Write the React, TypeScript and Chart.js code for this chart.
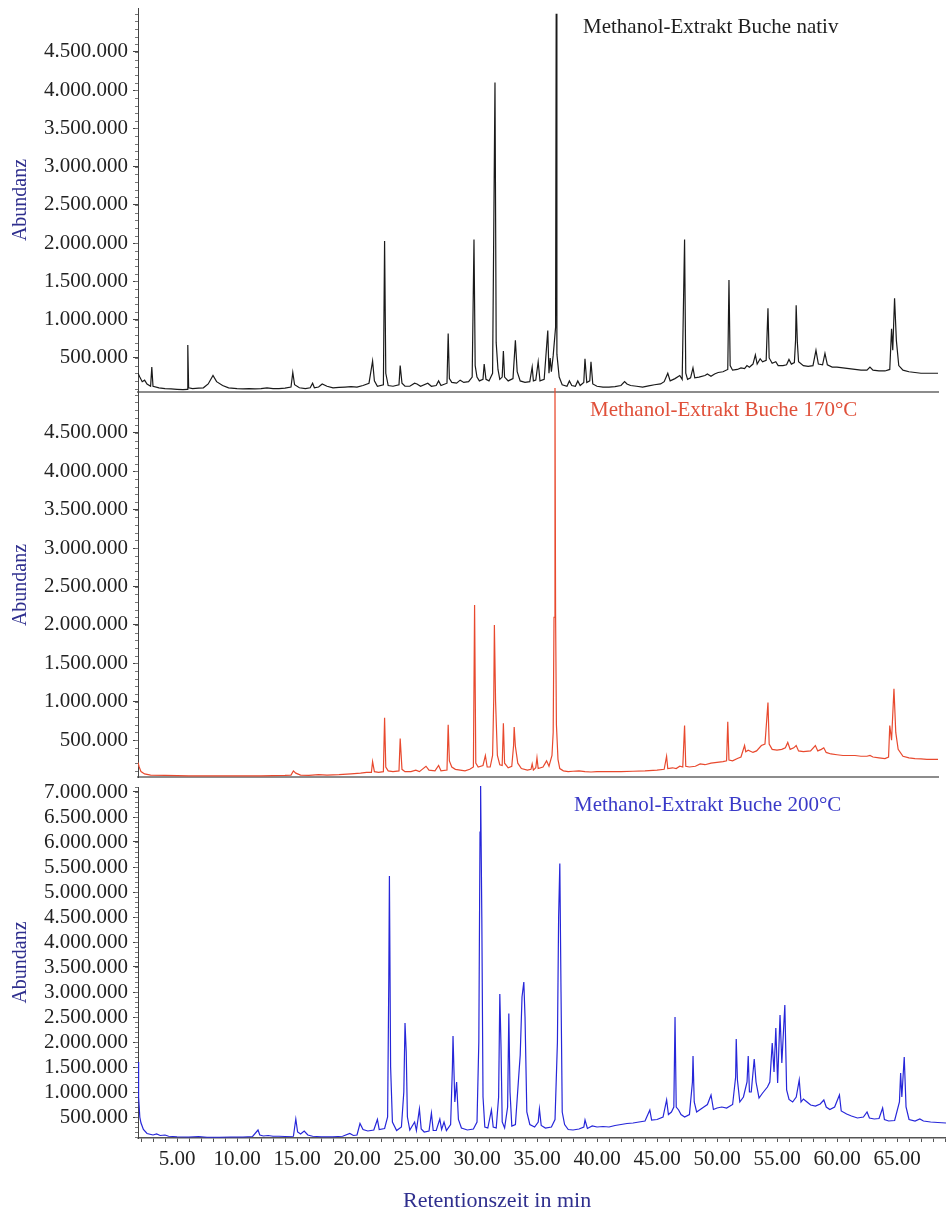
import React, { useEffect, useRef } from 'react';
import { Chart, registerables } from 'chart.js';

Chart.register(...registerables);

// ---------- data (retention time in min, abundance) ----------
const nativPoints: [number, number][] = [
  [1.75, 300000], [1.9, 250000], [2.1, 190000], [2.3, 210000], [2.5, 160000], [2.8, 130000], [2.9, 380000], [3.0, 130000],
  [3.5, 110000], [4.0, 100000], [4.5, 95000], [5.0, 90000], [5.5, 85000], [5.85, 90000], [5.9, 670000], [5.97, 110000],
  [6.3, 100000], [6.8, 105000], [7.2, 110000], [7.6, 160000], [8.0, 270000], [8.3, 190000], [8.8, 140000], [9.3, 110000],
  [10.0, 100000], [10.5, 95000], [11.0, 100000], [11.5, 95000], [12.0, 100000], [12.5, 110000], [13.0, 100000], [13.5, 100000],
  [14.0, 105000], [14.5, 120000], [14.65, 310000], [14.8, 150000], [15.2, 110000], [15.7, 100000], [16.1, 110000], [16.3, 170000],
  [16.45, 110000], [16.8, 120000], [17.1, 160000], [17.5, 130000], [18.0, 110000], [18.5, 115000], [19.0, 120000], [19.5, 125000],
  [20.0, 120000], [20.5, 140000], [21.0, 170000], [21.3, 460000], [21.45, 200000], [21.7, 130000], [22.2, 150000], [22.3, 2030000],
  [22.4, 300000], [22.6, 140000], [23.0, 130000], [23.5, 150000], [23.6, 400000], [23.75, 170000], [24.0, 130000], [24.4, 130000],
  [24.8, 170000], [25.0, 160000], [25.3, 130000], [25.9, 170000], [26.2, 130000], [26.6, 140000], [26.8, 200000], [27.0, 140000],
  [27.5, 170000], [27.6, 820000], [27.7, 230000], [27.9, 180000], [28.3, 170000], [28.6, 210000], [28.9, 180000], [29.3, 190000],
  [29.6, 250000], [29.75, 2050000], [29.85, 400000], [30.0, 250000], [30.2, 200000], [30.5, 220000], [30.6, 420000], [30.75, 220000],
  [31.0, 200000], [31.3, 300000], [31.5, 4100000], [31.6, 700000], [31.75, 350000], [31.9, 220000], [32.1, 250000], [32.2, 590000],
  [32.3, 250000], [32.6, 200000], [33.0, 230000], [33.2, 730000], [33.35, 320000], [33.6, 200000], [34.0, 180000], [34.4, 190000],
  [34.6, 380000], [34.7, 200000], [34.9, 210000], [35.1, 450000], [35.25, 200000], [35.6, 220000], [35.9, 860000], [36.0, 300000],
  [36.1, 500000], [36.2, 320000], [36.35, 530000], [36.55, 900000], [36.6, 5000000], [36.66, 550000], [36.85, 250000], [37.1, 150000],
  [37.5, 130000], [37.7, 200000], [37.9, 140000], [38.2, 130000], [38.4, 200000], [38.6, 140000], [38.9, 180000], [39.0, 490000],
  [39.15, 180000], [39.4, 200000], [39.5, 450000], [39.65, 160000], [40.0, 130000], [40.5, 120000], [41.0, 120000], [41.5, 125000],
  [42.0, 140000], [42.3, 190000], [42.5, 160000], [42.8, 140000], [43.3, 130000], [43.8, 120000], [44.3, 135000], [44.8, 150000],
  [45.3, 160000], [45.6, 190000], [45.9, 300000], [46.1, 200000], [46.5, 230000], [46.9, 270000], [47.1, 220000], [47.3, 2050000],
  [47.4, 300000], [47.55, 220000], [47.8, 240000], [48.0, 370000], [48.15, 240000], [48.5, 250000], [49.0, 270000], [49.2, 290000],
  [49.5, 260000], [49.8, 290000], [50.1, 310000], [50.5, 320000], [50.9, 350000], [51.0, 1520000], [51.1, 400000], [51.3, 340000],
  [51.7, 350000], [52.0, 370000], [52.3, 360000], [52.5, 400000], [52.7, 380000], [53.0, 420000], [53.2, 540000], [53.35, 420000],
  [53.6, 490000], [53.8, 450000], [54.1, 470000], [54.25, 1150000], [54.35, 500000], [54.6, 430000], [54.9, 450000], [55.1, 400000],
  [55.5, 400000], [55.8, 410000], [56.0, 480000], [56.2, 420000], [56.45, 440000], [56.55, 730000], [56.6, 1190000], [56.7, 700000],
  [56.8, 450000], [57.2, 400000], [57.6, 390000], [58.0, 400000], [58.25, 600000], [58.45, 420000], [58.8, 410000], [59.0, 560000],
  [59.2, 410000], [59.6, 380000], [60.0, 380000], [60.5, 370000], [61.0, 360000], [61.5, 350000], [62.0, 340000], [62.5, 340000],
  [62.75, 380000], [63.0, 340000], [63.5, 330000], [64.0, 330000], [64.4, 350000], [64.55, 880000], [64.65, 600000], [64.8, 1280000],
  [64.95, 730000], [65.15, 400000], [65.5, 340000], [66.0, 320000], [66.5, 310000], [67.0, 300000], [67.5, 300000], [68.0, 300000],
  [68.42, 300000],
];

const temp170Points: [number, number][] = [
  [1.75, 210000], [1.85, 150000], [2.0, 90000], [2.3, 60000], [2.8, 45000], [4.0, 40000], [6.0, 35000], [8.0, 35000],
  [10.0, 35000], [12.0, 35000], [14.0, 40000], [14.5, 45000], [14.7, 100000], [14.9, 70000], [15.3, 45000], [16.0, 40000],
  [16.8, 50000], [17.5, 45000], [18.5, 50000], [19.5, 60000], [20.3, 70000], [20.8, 80000], [21.2, 80000], [21.3, 220000],
  [21.45, 90000], [21.8, 80000], [22.2, 90000], [22.3, 790000], [22.4, 150000], [22.6, 100000], [23.0, 90000], [23.5, 100000],
  [23.6, 520000], [23.75, 120000], [24.0, 90000], [24.5, 90000], [24.9, 110000], [25.2, 90000], [25.75, 160000], [26.0, 110000],
  [26.5, 100000], [26.8, 170000], [27.0, 100000], [27.5, 110000], [27.6, 700000], [27.7, 230000], [27.9, 150000], [28.2, 120000],
  [28.6, 110000], [29.0, 100000], [29.4, 120000], [29.7, 150000], [29.8, 2260000], [29.9, 200000], [30.1, 150000], [30.5, 170000],
  [30.7, 300000], [30.85, 150000], [31.1, 150000], [31.3, 300000], [31.4, 1060000], [31.45, 2000000], [31.55, 1000000], [31.7, 300000],
  [31.9, 180000], [32.1, 170000], [32.2, 720000], [32.3, 200000], [32.6, 140000], [32.9, 160000], [33.05, 430000], [33.1, 670000],
  [33.2, 420000], [33.4, 200000], [33.7, 130000], [34.2, 110000], [34.5, 120000], [34.6, 190000], [34.7, 110000], [34.9, 140000],
  [35.0, 270000], [35.1, 130000], [35.5, 150000], [35.8, 230000], [36.0, 160000], [36.25, 300000], [36.35, 600000], [36.42, 2100000],
  [36.5, 5150000], [36.55, 2150000], [36.62, 700000], [36.75, 250000], [36.9, 130000], [37.2, 100000], [37.6, 90000], [38.0, 95000],
  [38.5, 100000], [39.0, 90000], [39.5, 85000], [40.0, 90000], [41.0, 90000], [42.0, 90000], [43.0, 95000], [44.0, 100000],
  [45.0, 110000], [45.6, 120000], [45.8, 290000], [45.9, 130000], [46.3, 140000], [46.6, 130000], [46.9, 160000], [47.15, 150000],
  [47.3, 690000], [47.4, 160000], [47.7, 150000], [48.2, 160000], [48.6, 190000], [49.0, 180000], [49.5, 200000], [50.0, 210000],
  [50.5, 220000], [50.8, 230000], [50.9, 740000], [51.0, 240000], [51.3, 230000], [51.7, 260000], [52.0, 280000], [52.3, 430000],
  [52.4, 350000], [52.6, 370000], [53.0, 340000], [53.3, 360000], [53.7, 430000], [54.0, 450000], [54.25, 990000], [54.35, 450000],
  [54.6, 380000], [55.0, 370000], [55.4, 380000], [55.7, 400000], [55.9, 470000], [56.1, 380000], [56.4, 400000], [56.6, 430000],
  [56.8, 360000], [57.2, 350000], [57.8, 360000], [58.2, 430000], [58.4, 360000], [58.7, 380000], [58.9, 400000], [59.1, 340000],
  [59.5, 320000], [60.0, 310000], [60.5, 300000], [61.0, 300000], [61.5, 300000], [62.0, 290000], [62.5, 290000], [62.75, 300000],
  [63.0, 280000], [63.5, 270000], [64.0, 260000], [64.3, 280000], [64.4, 690000], [64.55, 500000], [64.75, 1170000], [64.9, 600000],
  [65.1, 380000], [65.5, 290000], [66.0, 270000], [66.5, 260000], [67.0, 255000], [67.5, 250000], [68.0, 250000], [68.42, 250000],
];

const temp200Points: [number, number][] = [
  [1.75, 1600000], [1.8, 900000], [1.9, 500000], [2.0, 380000], [2.2, 250000], [2.5, 170000], [3.0, 140000], [3.3, 160000],
  [3.6, 130000], [4.0, 140000], [4.3, 115000], [5.0, 105000], [6.0, 100000], [6.8, 110000], [7.5, 95000], [8.5, 95000],
  [9.5, 100000], [10.5, 100000], [11.3, 110000], [11.75, 240000], [11.9, 140000], [12.2, 120000], [12.6, 130000], [13.0, 115000],
  [13.5, 115000], [14.0, 110000], [14.7, 115000], [14.9, 460000], [15.05, 200000], [15.3, 160000], [15.6, 220000], [15.9, 140000],
  [16.3, 115000], [17.0, 105000], [18.0, 105000], [18.8, 115000], [19.4, 170000], [19.7, 130000], [20.0, 140000], [20.25, 370000],
  [20.5, 250000], [20.9, 220000], [21.4, 240000], [21.7, 450000], [21.85, 250000], [22.3, 270000], [22.55, 500000], [22.65, 3300000],
  [22.7, 5320000], [22.8, 1500000], [22.95, 400000], [23.3, 230000], [23.7, 300000], [23.9, 1000000], [24.0, 2380000], [24.1, 1800000],
  [24.2, 500000], [24.4, 240000], [24.8, 400000], [24.95, 230000], [25.2, 660000], [25.35, 260000], [25.6, 200000], [26.0, 220000],
  [26.2, 580000], [26.35, 230000], [26.6, 230000], [26.9, 460000], [27.05, 250000], [27.25, 400000], [27.45, 230000], [27.8, 350000],
  [27.95, 1500000], [28.0, 2120000], [28.15, 800000], [28.3, 1200000], [28.45, 450000], [28.7, 280000], [29.2, 240000], [29.7, 260000],
  [30.0, 400000], [30.15, 2000000], [30.25, 6200000], [30.3, 7120000], [30.4, 4500000], [30.5, 900000], [30.65, 300000], [30.9, 280000],
  [31.2, 640000], [31.35, 300000], [31.6, 280000], [31.8, 900000], [31.9, 2960000], [32.0, 1900000], [32.1, 400000], [32.3, 280000],
  [32.55, 700000], [32.65, 2570000], [32.75, 1000000], [32.9, 320000], [33.2, 350000], [33.5, 1400000], [33.6, 1740000], [33.75, 2900000],
  [33.9, 3200000], [34.0, 2500000], [34.15, 600000], [34.4, 350000], [34.8, 300000], [35.1, 400000], [35.2, 660000], [35.35, 330000],
  [35.7, 280000], [36.2, 300000], [36.5, 450000], [36.7, 2000000], [36.8, 4500000], [36.9, 5570000], [37.0, 3000000], [37.1, 600000],
  [37.3, 350000], [37.6, 250000], [38.0, 240000], [38.5, 260000], [38.9, 300000], [39.0, 440000], [39.2, 270000], [39.6, 320000],
  [40.0, 300000], [40.5, 310000], [41.0, 300000], [41.5, 330000], [42.0, 350000], [42.5, 370000], [43.0, 380000], [43.5, 400000],
  [44.0, 420000], [44.4, 640000], [44.55, 440000], [45.0, 450000], [45.5, 500000], [45.8, 840000], [45.95, 550000], [46.2, 600000],
  [46.4, 700000], [46.5, 2500000], [46.6, 700000], [46.8, 640000], [47.0, 550000], [47.3, 500000], [47.7, 550000], [47.95, 1200000],
  [48.0, 1720000], [48.1, 800000], [48.3, 600000], [48.6, 650000], [48.9, 700000], [49.2, 750000], [49.5, 940000], [49.7, 650000],
  [50.0, 680000], [50.4, 700000], [50.8, 680000], [51.3, 750000], [51.55, 1300000], [51.6, 2060000], [51.7, 1240000], [51.9, 800000],
  [52.2, 900000], [52.5, 1200000], [52.6, 1720000], [52.7, 1000000], [52.85, 1000000], [53.1, 1660000], [53.25, 1200000], [53.5, 880000],
  [53.8, 980000], [54.2, 1100000], [54.4, 1200000], [54.6, 1980000], [54.75, 1400000], [54.9, 2280000], [55.05, 1180000], [55.25, 2540000],
  [55.4, 1580000], [55.65, 2740000], [55.8, 1040000], [56.0, 850000], [56.3, 800000], [56.6, 900000], [56.85, 1240000], [57.0, 800000],
  [57.2, 860000], [57.5, 800000], [57.8, 740000], [58.2, 720000], [58.6, 760000], [58.9, 840000], [59.1, 700000], [59.4, 650000],
  [59.8, 700000], [60.2, 940000], [60.35, 620000], [60.8, 560000], [61.2, 520000], [61.7, 480000], [62.2, 500000], [62.5, 600000],
  [62.7, 480000], [63.1, 460000], [63.5, 470000], [63.8, 680000], [63.95, 450000], [64.3, 420000], [64.8, 430000], [65.2, 800000],
  [65.3, 1380000], [65.4, 900000], [65.6, 1700000], [65.75, 700000], [66.0, 450000], [66.5, 420000], [66.9, 460000], [67.2, 420000],
  [67.8, 400000], [68.4, 390000], [69.08, 380000],
];

const yTicksUpper = [500000, 1000000, 1500000, 2000000, 2500000, 3000000, 3500000, 4000000, 4500000];
const yTicksLower = [500000, 1000000, 1500000, 2000000, 2500000, 3000000, 3500000, 4000000, 4500000, 5000000, 5500000, 6000000, 6500000, 7000000];
const xLabelMinutes = [5, 10, 15, 20, 25, 30, 35, 40, 45, 50, 55, 60, 65];
const xMinorMinutes = [2, 3, 4, 5, 6, 7, 8, 9, 10, 11, 12, 13, 14, 15, 16, 17, 18, 19, 20, 21, 22, 23, 24, 25, 26, 27, 28, 29, 30, 31, 32, 33, 34, 35, 36, 37, 38, 39, 40, 41, 42, 43, 44, 45, 46, 47, 48, 49, 50, 51, 52, 53, 54, 55, 56, 57, 58, 59, 60, 61, 62, 63, 64, 65, 66, 67, 68, 69];
const panelTitles = ['Methanol-Extrakt Buche nativ', 'Methanol-Extrakt Buche 170°C', 'Methanol-Extrakt Buche 200°C'];
const yAxisTitle = 'Abundanz';
const xAxisTitle = 'Retentionszeit in min';

const FONT = "'Liberation Serif', 'Times New Roman', Times, serif";
const AXIS_TITLE_COLOR = '#2f2f8e';

const fmtDE = (v: number) => String(Math.round(v)).replace(/\B(?=(\d{3})+(?!\d))/g, '.');

const minorTickPlugin = {
  id: 'minorTicks',
  afterDraw(chart: any) {
    const y = chart.scales.y;
    const ctx = chart.ctx;
    ctx.save();
    ctx.strokeStyle = '#777';
    ctx.lineWidth = 1;
    const step = 100000;
    for (let v = Math.ceil(y.min / step) * step; v <= y.max; v += step) {
      const py = Math.round(y.getPixelForValue(v)) + 0.5;
      ctx.beginPath();
      ctx.moveTo(y.right - 3, py);
      ctx.lineTo(y.right, py);
      ctx.stroke();
    }
    ctx.restore();
  },
};

type PanelCfg = {
  points: [number, number][];
  color: string;
  yMin: number;
  yMax: number;
  yTicks: number[];
  xMax: number;
  showX: boolean;
  padRight: number;
  padBottom: number;
  clipTop: number;
};

function makeConfig(p: PanelCfg): any {
  return {
    type: 'line',
    data: {
      datasets: [
        {
          data: p.points.map(([x, y]) => ({ x, y })),
          borderColor: p.color,
          borderWidth: 1.2,
          pointRadius: 0,
          tension: 0,
          fill: false,
          clip: { left: 0, top: p.clipTop, right: 0, bottom: 0 },
        },
      ],
    },
    options: {
      animation: false,
      responsive: false,
      maintainAspectRatio: false,
      devicePixelRatio: 1,
      events: [],
      layout: { padding: { top: 8, right: p.padRight, bottom: p.padBottom, left: 0 } },
      plugins: { legend: { display: false }, tooltip: { enabled: false }, title: { display: false } },
      scales: {
        x: {
          type: 'linear',
          min: 1.75,
          max: p.xMax,
          afterBuildTicks: (s: any) => {
            s.ticks = xMinorMinutes.filter((m) => m <= p.xMax).map((v) => ({ value: v }));
          },
          ticks: {
            display: p.showX,
            autoSkip: false,
            maxRotation: 0,
            padding: 5,
            color: '#222',
            font: { family: FONT, size: 21 },
            callback: (v: any) => (xLabelMinutes.includes(Number(v)) ? Number(v).toFixed(2) : ''),
          },
          grid: { display: p.showX, drawOnChartArea: false, drawTicks: p.showX, tickLength: 4, color: '#555' },
          border: { display: true, color: p.showX ? '#555' : '#8c8c8c', width: p.showX ? 1.5 : 2 },
          afterFit: (s: any) => {
            s.height = p.showX ? 40 : 0;
            s.paddingLeft = 0;
            s.paddingRight = 0;
          },
        },
        y: {
          type: 'linear',
          min: p.yMin,
          max: p.yMax,
          afterBuildTicks: (s: any) => {
            s.ticks = p.yTicks.map((v) => ({ value: v }));
          },
          ticks: {
            autoSkip: false,
            padding: 5,
            color: '#222',
            font: { family: FONT, size: 21 },
            callback: (v: any) => fmtDE(Number(v)),
          },
          grid: { drawOnChartArea: false, drawTicks: true, tickLength: 5, color: '#444' },
          border: { display: true, color: '#444', width: 1 },
          title: {
            display: true,
            text: yAxisTitle,
            color: AXIS_TITLE_COLOR,
            font: { family: FONT, size: 20 },
            padding: { top: 9, bottom: 0 },
          },
          afterFit: (s: any) => {
            s.width = 138;
            s.paddingTop = 0;
            s.paddingBottom = 0;
          },
        },
      },
    },
    plugins: [minorTickPlugin],
  };
}

const panels: (PanelCfg & { top: number; height: number; width: number })[] = [
  { points: nativPoints, color: '#1a1a1a', yMin: 55000, yMax: 5075000, yTicks: yTicksUpper, xMax: 68.42, showX: false, padRight: 8, padBottom: 8, clipTop: 2, top: 0, height: 400, width: 946 },
  { points: temp170Points, color: '#e8492e', yMin: 20000, yMax: 5020000, yTicks: yTicksUpper, xMax: 68.42, showX: false, padRight: 8, padBottom: 8, clipTop: 5, top: 385, height: 400, width: 946 },
  { points: temp200Points, color: '#2626d9', yMin: 80000, yMax: 7100000, yTicks: yTicksLower, xMax: 69.08, showX: true, padRight: 0, padBottom: 37, clipTop: 3, top: 779, height: 436, width: 946 },
];

const titleStyles: React.CSSProperties[] = [
  { left: 583, top: 16, color: '#1e1e1e' },
  { left: 590, top: 399, color: '#e0503a' },
  { left: 574, top: 794, color: '#3a3ac8' },
];

export default function App() {
  const r0 = useRef<HTMLCanvasElement>(null);
  const r1 = useRef<HTMLCanvasElement>(null);
  const r2 = useRef<HTMLCanvasElement>(null);

  useEffect(() => {
    const refs = [r0, r1, r2];
    const charts = refs.map((r, i) => new Chart(r.current as HTMLCanvasElement, makeConfig(panels[i])));
    return () => charts.forEach((c) => c.destroy());
  }, []);

  const refs = [r0, r1, r2];

  return (
    <div style={{ position: 'absolute', left: 0, top: 0, width: 946, height: 1215, background: '#fff', overflow: 'hidden', fontFamily: FONT }}>
      {panels.map((p, i) => (
        <canvas
          key={i}
          ref={refs[i]}
          width={p.width}
          height={p.height}
          style={{ position: 'absolute', left: 0, top: p.top, width: p.width, height: p.height, display: 'block' }}
        />
      ))}
      {panelTitles.map((t, i) => (
        <div
          key={t}
          style={{ position: 'absolute', whiteSpace: 'nowrap', fontSize: 21, lineHeight: '21px', ...titleStyles[i] }}
        >
          {t}
        </div>
      ))}
      <div style={{ position: 'absolute', left: 403, top: 1189, whiteSpace: 'nowrap', fontSize: 22, lineHeight: '22px', color: AXIS_TITLE_COLOR }}>
        {xAxisTitle}
      </div>
    </div>
  );
}
